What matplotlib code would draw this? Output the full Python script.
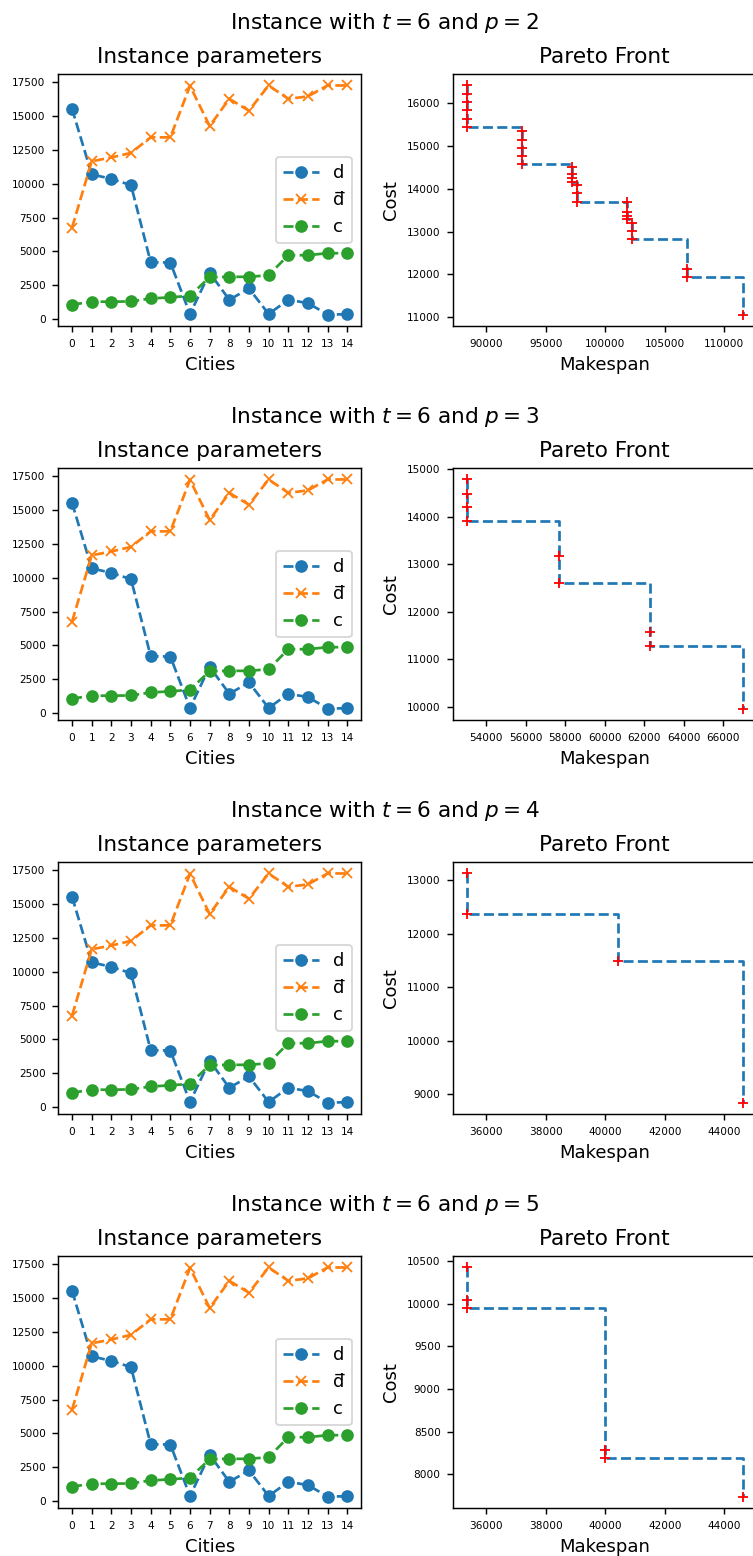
import matplotlib
matplotlib.use("Agg")
import matplotlib.pyplot as plt

# ---------------- data ----------------
cities = list(range(15))
d_vals = [15550, 10700, 10370, 9900, 4200, 4180, 370, 3420, 1420, 2260, 370, 1420, 1180, 330, 350]
dbar_vals = [6760, 11670, 11950, 12290, 13440, 13440, 17250, 14280, 16290, 15410, 17280, 16290, 16470, 17280, 17280]
c_vals = [1060, 1280, 1280, 1300, 1520, 1600, 1720, 3100, 3120, 3120, 3240, 4720, 4720, 4870, 4870]

t_value = 6
p_values = [2, 3, 4, 5]

# Pareto fronts: makespan / cost per instance
pf_makespan = {
    2: [88365, 88365, 88365, 88365, 88365, 88365,
        93000, 93000, 93000, 93000, 93000,
        97165, 97165, 97165, 97165,
        97585, 97585, 97585,
        101860, 101860, 101860, 101860,
        102240, 102240, 102240,
        106910, 106910,
        111570],
    3: [53020, 53020, 53020, 53020, 57684, 57684, 62315, 62315, 66980],
    4: [35349, 35349, 40422, 44619],
    5: [35349, 35349, 35349, 39984, 39984, 44619],
}
pf_cost = {
    2: [16420, 16225, 16030, 15840, 15640, 15455,
        15345, 15150, 14960, 14765, 14575,
        14520, 14345, 14265, 14170,
        14095, 13900, 13705,
        13705, 13470, 13370, 13300,
        13200, 13020, 12835,
        12128, 11940,
        11062],
    3: [14783, 14482, 14195, 13901, 13172, 12605, 11576, 11282, 9958],
    4: [13124, 12359, 11482, 8844],
    5: [10422, 10041, 9944, 8284, 8187, 7740],
}

# ---------------- figure ----------------
DPI = 130
W, H = 753, 1556
fig = plt.figure(figsize=(W / DPI, H / DPI), dpi=DPI)


def px_axes(left, top, width, height):
    return fig.add_axes([left / W, (H - top - height) / H, width / W, height / H])


row_pitch = 394
for i, p in enumerate(p_values):
    top = 74 + i * row_pitch
    fig.text(384.5 / W, 1 - (29.3 + i * row_pitch) / H,
             f"Instance with $t={t_value}$ and $p={p}$",
             ha="center", va="baseline", fontsize=12)

    ax1 = px_axes(58.3, top, 302.7, 252)
    ax1.plot(cities, d_vals, "o--", color="C0", label="d")
    ax1.plot(cities, dbar_vals, "x--", color="C1", label="d\u0305")
    ax1.plot(cities, c_vals, "o--", color="C2", label="c")
    ax1.set_xticks(cities)
    ax1.tick_params(labelsize="xx-small")
    ax1.set_xlabel("Cities")
    ax1.set_title("Instance parameters")
    ax1.legend(loc="center right")

    ax2 = px_axes(453.3, top, 303, 252)
    ax2.step(pf_makespan[p], pf_cost[p], where="post", linestyle="--", color="C0")
    ax2.plot(pf_makespan[p], pf_cost[p], "r+", linestyle="none")
    ax2.tick_params(labelsize="xx-small")
    ax2.set_xlabel("Makespan")
    ax2.set_ylabel("Cost")
    ax2.set_title("Pareto Front")

fig.savefig("out.png", dpi=DPI)
